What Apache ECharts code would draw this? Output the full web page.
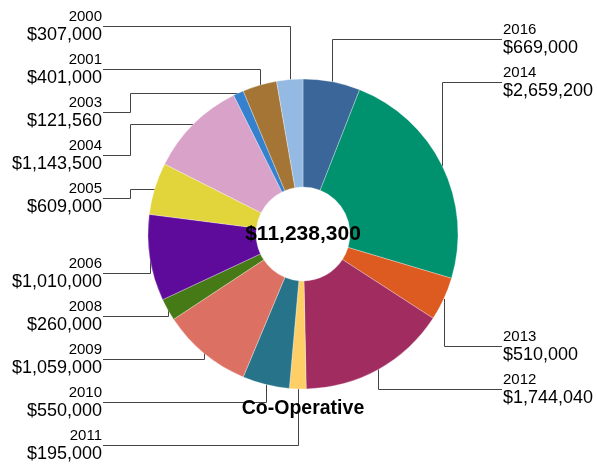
<!DOCTYPE html>
<html><head><meta charset="utf-8">
<script src="https://cdn.jsdelivr.net/npm/echarts@6/dist/echarts.min.js"></script>
<style>html,body{margin:0;padding:0;background:#fff}#c{width:597px;height:467px}</style>
</head><body><div id="c"></div>
<script>
// ---- data (clockwise from 12 o'clock) ----
const years   = ['2016','2014','2013','2012','2011','2010','2009','2008','2006','2005','2004','2003','2001','2000'];
const amounts = [669000,2659200,510000,1744040,195000,550000,1059000,260000,1010000,609000,1143500,121560,401000,307000];
const colors  = ['#3b6699','#00926f','#dd5a20','#a02c60','#fecf66','#27748a','#dc7163','#467a16','#5e0b9b','#e2d43b','#d9a2c8','#3681cd','#a47535','#94bae3'];
const groupName = 'Co-Operative';

// ---- layout constants ----
const W = 597, H = 467;
const CX = 303, CY = 234, R0 = 47, R = 155;
const GAP = 43;
const FONT = "'Liberation Sans', Arial, Helvetica, sans-serif";

const fmt = v => '$' + v.toLocaleString('en-US');
const total = amounts.reduce((a, b) => a + b, 0);

// label placement (computed from the slice geometry)
const geo = [];
let acc = 0;
amounts.forEach((v, i) => {
  const a0 = acc / total * Math.PI * 2; acc += v;
  const a1 = acc / total * Math.PI * 2;
  const am = (a0 + a1) / 2;
  const ys = [a0, a1].flatMap(a => [CY - R * Math.cos(a), CY - R0 * Math.cos(a)]);
  if (a0 <= 0 || a1 >= Math.PI * 2) ys.push(CY - R);
  if (a0 <= Math.PI && a1 >= Math.PI) ys.push(CY + R);
  geo.push({
    i, am,
    px: CX + R * Math.sin(am), py: CY - R * Math.cos(am),
    top: Math.min(...ys), bottom: Math.max(...ys),
    side: Math.sin(am) >= 0 ? 'R' : 'L',
    upper: Math.cos(am) > 0
  });
});

function resolveUpper(list) {
  const TOP_MIN = 20, UPPER_MAX = CY - 36;
  const n = list.length; if (!n) return;
  list.forEach(g => g.nat = g.top - 40);
  list[0].y = Math.max(list[0].nat, TOP_MIN);
  for (let k = 1; k < n; k++) list[k].y = Math.max(list[k].nat, list[k - 1].y + GAP);
  if (list[n - 1].y > UPPER_MAX) {
    list[n - 1].y = UPPER_MAX;
    for (let k = n - 2; k >= 0; k--) list[k].y = Math.min(list[k].y, list[k + 1].y - GAP);
  }
  if (list[0].y < TOP_MIN) {
    list[0].y = TOP_MIN;
    for (let k = 1; k < n; k++) list[k].y = Math.max(list[k].y, list[k - 1].y + GAP);
  }
}
function resolveLower(list) {
  const LOWER_MIN = CY + 39, BOTTOM_MAX = H - 20;
  const n = list.length; if (!n) return;
  list.forEach(g => g.nat = Math.min(g.bottom + 40, CY + R));
  list[n - 1].y = Math.min(list[n - 1].nat, BOTTOM_MAX);
  for (let k = n - 2; k >= 0; k--) list[k].y = Math.min(list[k].nat, list[k + 1].y - GAP);
  if (list[0].y < LOWER_MIN) {
    list[0].y = LOWER_MIN;
    for (let k = 1; k < n; k++) list[k].y = Math.max(list[k].y, list[k - 1].y + GAP);
  }
}
['R', 'L'].forEach(side => {
  const s = geo.filter(g => g.side === side).sort((a, b) => side === 'R' ? a.am - b.am : b.am - a.am);
  resolveUpper(s.filter(g => g.upper));
  resolveLower(s.filter(g => !g.upper));
});
geo.forEach(g => {
  const right = g.side === 'R';
  g.labelX = right ? CX + 200 : CX - 201;
  const endX = right ? CX + 199 : CX - 200;
  const y = Math.round(g.y) + 0.5;
  const px = Math.round(g.px) + 0.5;
  const direct = g.upper ? (g.y <= g.py) : (g.y >= g.py);
  if (direct) {
    g.pts = [[px, g.py], [px, y], [endX, y]];
  } else {
    const vx = Math.round(right ? CX + R + 18 : CX - R - 18) + 0.5;
    const py = Math.round(g.py) + 0.5;
    g.pts = [[px, py], [vx, py], [vx, y], [endX, y]];
  }
});

const chart = echarts.init(document.getElementById('c'), null, { renderer: 'canvas' });
chart.setOption({
  animation: false,
  backgroundColor: '#ffffff',
  color: colors,
  series: [{
    type: 'pie',
    center: [CX, CY],
    radius: [R0, R],
    startAngle: 90,
    clockwise: true,
    avoidLabelOverlap: false,
    itemStyle: { borderColor: 'rgba(255,255,255,0.6)', borderWidth: 0.5 },
    emphasis: { disabled: true },
    data: years.map((y, i) => ({ name: y, value: amounts[i] })),
    label: {
      show: true,
      position: 'outer',
      color: '#000',
      formatter: p => '{y|' + p.name + '}\n{v|' + fmt(p.value) + '}',
      rich: {
        y: { fontSize: 15, lineHeight: 18, fontFamily: FONT, color: '#000' },
        v: { fontSize: 18, lineHeight: 19, fontFamily: FONT, color: '#000' }
      }
    },
    labelLine: { show: true, length: 10, length2: 10, smooth: false, lineStyle: { color: '#444', width: 1 } },
    labelLayout: params => {
      const g = geo[params.dataIndex];
      return {
        x: g.labelX, y: g.y,
        align: g.side === 'R' ? 'left' : 'right',
        verticalAlign: 'middle',
        labelLinePoints: g.pts
      };
    }
  }],
  graphic: [
    { type: 'text', x: CX, y: CY, z: 10,
      style: { text: fmt(total), align: 'center', verticalAlign: 'middle',
               font: 'bold 21px ' + FONT, fill: '#000' } },
    { type: 'text', x: CX, y: CY + R + 20, z: 10,
      style: { text: groupName, align: 'center', verticalAlign: 'middle',
               font: 'bold 19.5px ' + FONT, fill: '#000' } }
  ]
});
</script></body></html>
